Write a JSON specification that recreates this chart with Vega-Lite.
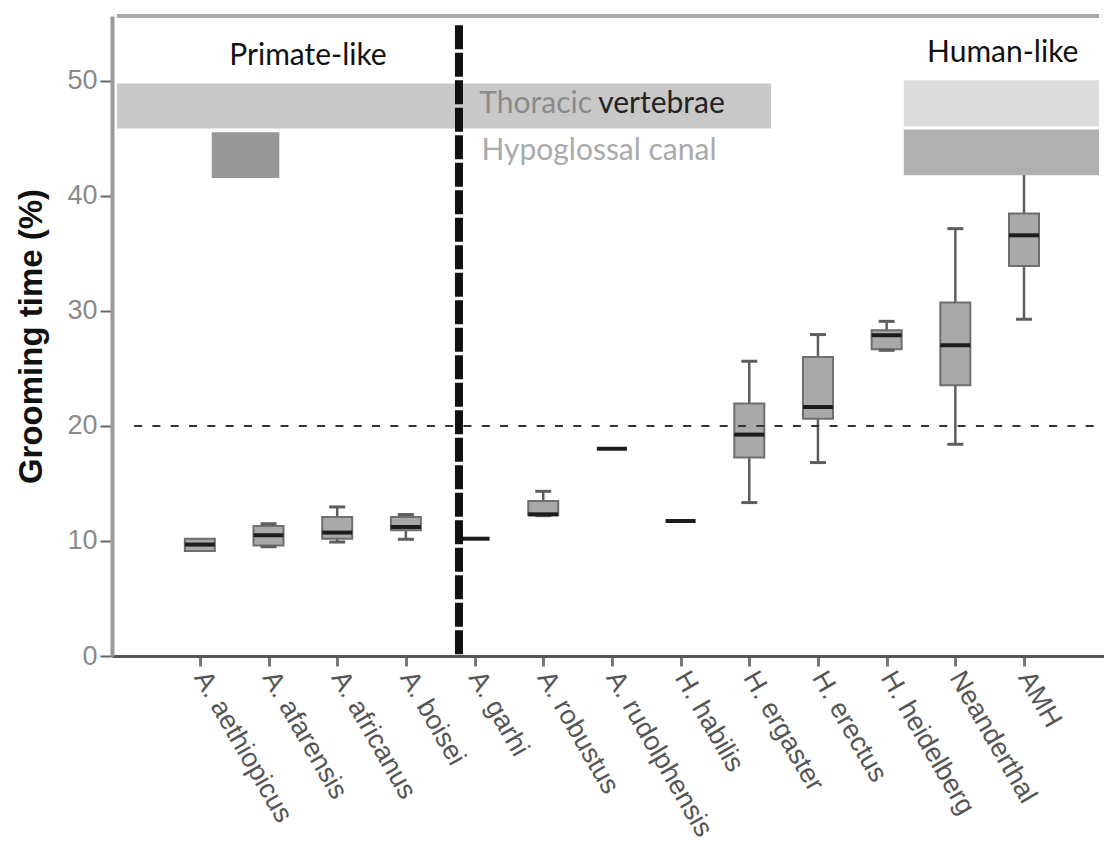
{
  "$schema": "https://vega.github.io/schema/vega-lite/v6.json",
  "width": 992,
  "height": 640,
  "autosize": {"type": "none"},
  "padding": {"left": 112, "top": 16, "right": 0, "bottom": 187},
  "background": "white",
  "datasets": {
    "boxes": [
      {"x": 1, "species": "A. aethiopicus", "min": 9.13, "q1": 9.13, "med": 9.69, "q3": 10.2, "max": 10.2},
      {"x": 2, "species": "A. afarensis", "min": 9.5, "q1": 9.6, "med": 10.5, "q3": 11.3, "max": 11.5},
      {"x": 3, "species": "A. africanus", "min": 9.91, "q1": 10.2, "med": 10.73, "q3": 12.09, "max": 12.96},
      {"x": 4, "species": "A. boisei", "min": 10.15, "q1": 10.93, "med": 11.22, "q3": 12.09, "max": 12.3},
      {"x": 5, "species": "A. garhi", "min": 10.2, "q1": 10.2, "med": 10.2, "q3": 10.2, "max": 10.2},
      {"x": 6, "species": "A. robustus", "min": 12.2, "q1": 12.23, "med": 12.32, "q3": 13.48, "max": 14.32},
      {"x": 7, "species": "A. rudolphensis", "min": 18.03, "q1": 18.03, "med": 18.03, "q3": 18.03, "max": 18.03},
      {"x": 8, "species": "H. habilis", "min": 11.74, "q1": 11.74, "med": 11.74, "q3": 11.74, "max": 11.74},
      {"x": 9, "species": "H. ergaster", "min": 13.34, "q1": 17.25, "med": 19.25, "q3": 21.95, "max": 25.63},
      {"x": 10, "species": "H. erectus", "min": 16.82, "q1": 20.64, "med": 21.65, "q3": 26.0, "max": 27.95},
      {"x": 11, "species": "H. heidelberg", "min": 26.58, "q1": 26.67, "med": 27.89, "q3": 28.32, "max": 29.1},
      {"x": 12, "species": "Neanderthal", "min": 18.41, "q1": 23.54, "med": 27.02, "q3": 30.73, "max": 37.16},
      {"x": 13, "species": "AMH", "min": 29.28, "q1": 33.91, "med": 36.58, "q3": 38.47, "max": 43.0}
    ]
  },
  "config": {
    "view": {"stroke": null},
    "axis": {"grid": false},
    "axisX": {
      "domainColor": "#555", "domainWidth": 3,
      "tickColor": "#777", "tickWidth": 3, "tickSize": 10,
      "labelFont": "Liberation Sans", "labelFontSize": 27, "labelColor": "#555",
      "labelAngle": 60, "labelAlign": "left", "labelBaseline": "middle", "labelLimit": 0,
      "labelPadding": 7, "labelOverlap": false, "labelBound": false, "labelFlush": false
    },
    "axisY": {
      "domainColor": "#999", "domainWidth": 4,
      "tickColor": "#666", "tickWidth": 2, "tickSize": 12,
      "labelFont": "Liberation Sans", "labelFontSize": 27, "labelColor": "#8a8a8a", "labelPadding": 3,
      "titleFont": "Liberation Sans", "titleFontSize": 33, "titleFontWeight": "bold", "titleColor": "#111",
      "titleX": -81, "titleBaseline": "middle", "titleAngle": -90
    }
  },
  "layer": [
    {
      "data": {"values": [{"x1": -0.206, "x2": 9.316, "y1": 45.86, "y2": 49.77}]},
      "mark": {"type": "rect", "color": "#c8c8c8"},
      "encoding": {
        "x": {"field": "x1", "type": "quantitative", "title": null,
              "scale": {"domain": [-0.206, 14.092], "nice": false, "zero": false},
              "axis": {"values": [1,2,3,4,5,6,7,8,9,10,11,12,13],
                       "labelExpr": "['A. aethiopicus','A. afarensis','A. africanus','A. boisei','A. garhi','A. robustus','A. rudolphensis','H. habilis','H. ergaster','H. erectus','H. heidelberg','Neanderthal','AMH'][datum.value-1]"}},
        "x2": {"field": "x2"},
        "y": {"field": "y1", "type": "quantitative", "title": "Grooming time (%)",
              "scale": {"domain": [0, 55.65], "nice": false, "zero": false},
              "axis": {"values": [0, 10, 20, 30, 40, 50]}},
        "y2": {"field": "y2"}
      }
    },
    {
      "data": {"values": [{"x1": 1.173, "x2": 2.157, "y1": 41.57, "y2": 45.54}]},
      "mark": {"type": "rect", "color": "#979797"},
      "encoding": {
        "x": {"field": "x1", "type": "quantitative", "title": null},
        "x2": {"field": "x2"},
        "y": {"field": "y1", "type": "quantitative", "title": "Grooming time (%)"},
        "y2": {"field": "y2"}
      }
    },
    {
      "data": {"name": "boxes"},
      "transform": [{"filter": "datum.max > datum.min"}],
      "mark": {"type": "rule", "color": "#5e5e5e", "strokeWidth": 2.5},
      "encoding": {
        "x": {"field": "x", "type": "quantitative", "title": null},
        "y": {"field": "min", "type": "quantitative", "title": "Grooming time (%)"},
        "y2": {"field": "max"}
      }
    },
    {
      "data": {"name": "boxes"},
      "transform": [{"filter": "datum.q3 > datum.q1"}],
      "mark": {"type": "bar", "size": 30, "fill": "#a9a9a9", "stroke": "#6e6e6e", "strokeWidth": 2},
      "encoding": {
        "x": {"field": "x", "type": "quantitative", "title": null},
        "y": {"field": "q1", "type": "quantitative", "title": "Grooming time (%)"},
        "y2": {"field": "q3"}
      }
    },
    {
      "data": {"name": "boxes"},
      "transform": [{"filter": "datum.max > datum.q3"}],
      "mark": {"type": "tick", "orient": "horizontal", "size": 16, "thickness": 3, "color": "#5e5e5e", "opacity": 1},
      "encoding": {
        "x": {"field": "x", "type": "quantitative", "title": null},
        "y": {"field": "max", "type": "quantitative", "title": "Grooming time (%)"}
      }
    },
    {
      "data": {"name": "boxes"},
      "transform": [{"filter": "datum.min < datum.q1"}],
      "mark": {"type": "tick", "orient": "horizontal", "size": 16, "thickness": 3, "color": "#5e5e5e", "opacity": 1},
      "encoding": {
        "x": {"field": "x", "type": "quantitative", "title": null},
        "y": {"field": "min", "type": "quantitative", "title": "Grooming time (%)"}
      }
    },
    {
      "data": {"name": "boxes"},
      "mark": {"type": "tick", "orient": "horizontal", "size": 30, "thickness": 4, "color": "#1c1c1c", "opacity": 1},
      "encoding": {
        "x": {"field": "x", "type": "quantitative", "title": null},
        "y": {"field": "med", "type": "quantitative", "title": "Grooming time (%)"}
      }
    },
    {
      "data": {"values": [{"x1": 11.25, "x2": 14.092, "y1": 46.06, "y2": 50.06}]},
      "mark": {"type": "rect", "color": "#dcdcdc"},
      "encoding": {
        "x": {"field": "x1", "type": "quantitative", "title": null},
        "x2": {"field": "x2"},
        "y": {"field": "y1", "type": "quantitative", "title": "Grooming time (%)"},
        "y2": {"field": "y2"}
      }
    },
    {
      "data": {"values": [{"x1": 11.25, "x2": 14.092, "y1": 41.8, "y2": 45.77}]},
      "mark": {"type": "rect", "color": "#b0b0b0"},
      "encoding": {
        "x": {"field": "x1", "type": "quantitative", "title": null},
        "x2": {"field": "x2"},
        "y": {"field": "y1", "type": "quantitative", "title": "Grooming time (%)"},
        "y2": {"field": "y2"}
      }
    },
    {
      "data": {"values": [{"x1": 0.043, "x2": 14.092, "y": 20}]},
      "mark": {"type": "rule", "color": "#333", "strokeWidth": 2, "strokeDash": [8, 10.3]},
      "encoding": {
        "x": {"field": "x1", "type": "quantitative", "title": null},
        "x2": {"field": "x2"},
        "y": {"field": "y", "type": "quantitative", "title": "Grooming time (%)"}
      }
    },
    {
      "data": {"values": [{"x": 4.773, "y1": 54.85, "y2": 0}]},
      "mark": {"type": "rule", "color": "#111", "strokeWidth": 8, "strokeDash": [24, 3.5]},
      "encoding": {
        "x": {"field": "x", "type": "quantitative", "title": null},
        "y": {"field": "y1", "type": "quantitative", "title": "Grooming time (%)"},
        "y2": {"field": "y2"}
      }
    },
    {
      "data": {"values": [{"x1": -0.206, "x2": 14.092, "y": 55.65}]},
      "mark": {"type": "rule", "color": "#aaa", "strokeWidth": 4},
      "encoding": {
        "x": {"field": "x1", "type": "quantitative", "title": null},
        "x2": {"field": "x2"},
        "y": {"field": "y", "type": "quantitative", "title": "Grooming time (%)"}
      }
    },
    {
      "data": {"values": [
        {"x": 2.575, "y": 51.37, "label": "Primate-like"},
        {"x": 12.69, "y": 51.65, "label": "Human-like"}
      ]},
      "mark": {"type": "text", "font": "Lato", "fontSize": 30, "color": "#111", "align": "center", "baseline": "alphabetic"},
      "encoding": {
        "x": {"field": "x", "type": "quantitative", "title": null},
        "y": {"field": "y", "type": "quantitative", "title": "Grooming time (%)"},
        "text": {"field": "label"}
      }
    },
    {
      "data": {"values": [{"x": 5.07, "y": 47.18, "label": "Thoracic"}]},
      "mark": {"type": "text", "font": "Lato", "fontSize": 30, "color": "#8a8a8a", "align": "left", "baseline": "alphabetic"},
      "encoding": {
        "x": {"field": "x", "type": "quantitative", "title": null},
        "y": {"field": "y", "type": "quantitative", "title": "Grooming time (%)"},
        "text": {"field": "label"}
      }
    },
    {
      "data": {"values": [{"x": 6.8, "y": 47.18, "label": "vertebrae"}]},
      "mark": {"type": "text", "font": "Lato", "fontSize": 30, "color": "#222", "align": "left", "baseline": "alphabetic"},
      "encoding": {
        "x": {"field": "x", "type": "quantitative", "title": null},
        "y": {"field": "y", "type": "quantitative", "title": "Grooming time (%)"},
        "text": {"field": "label"}
      }
    },
    {
      "data": {"values": [{"x": 5.1, "y": 43.1, "label": "Hypoglossal canal"}]},
      "mark": {"type": "text", "font": "Lato", "fontSize": 30, "color": "#aaa", "align": "left", "baseline": "alphabetic"},
      "encoding": {
        "x": {"field": "x", "type": "quantitative", "title": null},
        "y": {"field": "y", "type": "quantitative", "title": "Grooming time (%)"},
        "text": {"field": "label"}
      }
    }
  ]
}
